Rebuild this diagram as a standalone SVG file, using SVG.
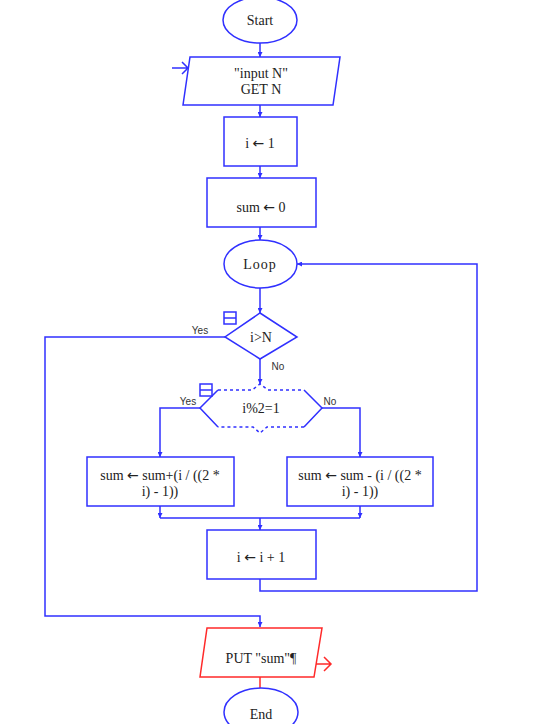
<svg xmlns="http://www.w3.org/2000/svg" width="555" height="724" viewBox="0 0 555 724">
<defs>
<style>
.b{fill:#fff;stroke:#3030ff;stroke-width:1.5}
.r{fill:#fff;stroke:#ff2a2a;stroke-width:1.5}
.c{fill:none;stroke:#3030ff;stroke-width:1.5}
.cr{fill:none;stroke:#ff2a2a;stroke-width:1.5}
.t{font-family:"Liberation Serif",serif;font-size:14px;fill:#222;text-anchor:middle}
.ar{font-family:"DejaVu Sans",sans-serif}
.l{font-family:"Liberation Sans",sans-serif;font-size:10px;fill:#333;text-anchor:middle}
</style>
<marker id="a" viewBox="0 0 10 10" refX="10" refY="5" markerWidth="5" markerHeight="5" orient="auto" markerUnits="userSpaceOnUse"><path d="M0,0 L10,5 L0,10 Z" fill="#3030ff"/></marker>
</defs>
<rect width="555" height="724" fill="#fff"/>
<g id="connectors">
<path class="c" d="M260,43 V57" marker-end="url(#a)"/>
<path class="c" d="M172,68 H188 M182,62 L188,68 L182,74"/>
<path class="c" d="M260,105 V117" marker-end="url(#a)"/>
<path class="c" d="M260,166 V178" marker-end="url(#a)"/>
<path class="c" d="M260,227 V240" marker-end="url(#a)"/>
<path class="c" d="M260,288 V313" marker-end="url(#a)"/>
<path class="c" d="M260,359 V384" marker-end="url(#a)"/>
<path class="c" d="M225,337 H45 V616 H260 V627" marker-end="url(#a)"/>
<path class="c" d="M200,408 H160 V457" marker-end="url(#a)"/>
<path class="c" d="M322,408 H360 V457" marker-end="url(#a)"/>
<path class="c" d="M160,506 V518" marker-end="url(#a)"/>
<path class="c" d="M360,506 V518" marker-end="url(#a)"/>
<path class="c" d="M160,518 H360 M260,518 V530" marker-end="url(#a)"/>
<path class="c" d="M260,579 V591 H477 V264 H297" marker-end="url(#a)"/>
<path class="cr" d="M260,677 V688"/>
<path class="cr" d="M314,664 H331 M324,657 L331,664 L324,671"/>
</g>
<g id="start"><ellipse class="b" cx="260" cy="20" rx="37" ry="23"/><text class="t" x="260" y="25" font-size="13">Start</text></g>
<g id="input"><path class="b" d="M190,57 H340 L333,105 H183 Z"/><text class="t" x="261" y="78">"input N"</text><text class="t" x="261" y="94">GET N</text></g>
<g id="i1"><rect class="b" x="224" y="117" width="73" height="49"/><text class="t" x="260" y="148">i <tspan class="ar">←</tspan> 1</text></g>
<g id="sum0"><rect class="b" x="207" y="178" width="109" height="49"/><text class="t" x="261" y="212">sum <tspan class="ar">←</tspan> 0</text></g>
<g id="loop"><ellipse class="b" cx="260.5" cy="264" rx="36.5" ry="24"/><text class="t" x="260" y="269" letter-spacing="1">Loop</text></g>
<g id="cond1"><path class="b" d="M260,313 L297,337 L260,359 L225,337 Z"/><text class="t" x="261" y="342">i&gt;N</text>
<rect x="224" y="312" width="12" height="12" fill="#fff" stroke="#3030ff" stroke-width="1.5"/><path class="c" d="M224,318 H236"/>
<text class="l" x="200" y="334">Yes</text><text class="l" x="278" y="370">No</text></g>
<g id="cond2"><path d="M200,408 L218,390 H252 L260,384 L268,390 H304 L322,408 L304,427 H267 L260,433 L253,427 H218 Z" fill="#fff" stroke="none"/>
<path class="c" d="M218,390 H252 L260,384 L268,390 H304 M304,427 H267 L260,433 L253,427 H218" stroke-dasharray="3,3" stroke-width="1.2"/>
<path class="c" d="M218,390 L200,408 L218,427 M304,390 L322,408 L304,427"/>
<text class="t" x="261" y="413">i%2=1</text>
<rect x="200" y="384" width="12" height="12" fill="#fff" stroke="#3030ff" stroke-width="1.5"/><path class="c" d="M200,390 H212"/>
<text class="l" x="188" y="405">Yes</text><text class="l" x="330" y="405">No</text></g>
<g id="plus"><rect class="b" x="87" y="457" width="147" height="49"/><text class="t" x="160" y="480" font-size="13">sum <tspan class="ar">←</tspan> sum+(i / ((2 *</text><text class="t" x="160" y="496" font-size="13">i) - 1))</text></g>
<g id="minus"><rect class="b" x="287" y="457" width="146" height="49"/><text class="t" x="360" y="480" font-size="13">sum <tspan class="ar">←</tspan> sum - (i / ((2 *</text><text class="t" x="360" y="496" font-size="13">i) - 1))</text></g>
<g id="inc"><rect class="b" x="207" y="530" width="109" height="49"/><text class="t" x="261" y="562">i <tspan class="ar">←</tspan> i + 1</text></g>
<g id="put"><path class="r" d="M207,628 H322 L314,677 H200 Z"/><text class="t" x="261" y="663">PUT "sum"¶</text></g>
<g id="end"><ellipse class="b" cx="261" cy="712" rx="37" ry="24"/><text class="t" x="261" y="719">End</text></g>
</svg>
